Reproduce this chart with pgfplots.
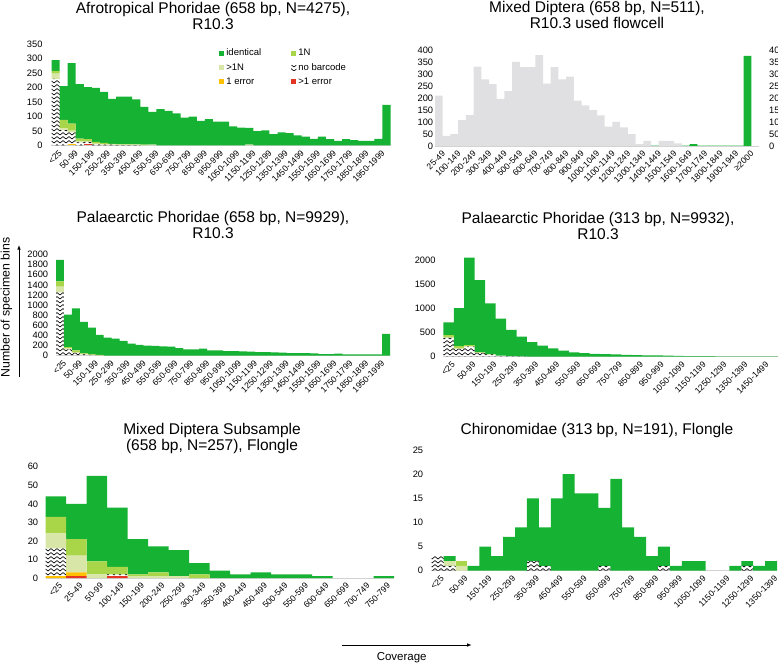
\documentclass[border=0pt]{standalone}
\usepackage{fontspec}
\setmainfont{Liberation Sans}
\usepackage{pgfplots}
\usepackage{pgfplotstable}
\pgfplotsset{compat=1.18}
\usetikzlibrary{patterns,patterns.meta,arrows.meta}

\definecolor{cid}{RGB}{22,178,52}
\definecolor{cn1}{RGB}{168,214,72}
\definecolor{cn2}{RGB}{216,230,168}
\definecolor{ce1}{RGB}{255,192,0}
\definecolor{ce2}{RGB}{228,52,36}
\definecolor{cgrey}{RGB}{224,224,226}

\tikzdeclarepattern{
  name=zigzag,
  type=uncolored,
  bounding box={(-0.5pt,-0.5pt) and (6.5pt,3.5pt)},
  tile size={(6pt,4pt)},
  code={\draw[line width=0.65pt] (0pt,0pt) -- (3pt,2.4pt) -- (6pt,0pt);}
}

\pgfplotsset{
  panel/.style={
    scale only axis, enlargelimits=false, clip=false,
    ybar stacked, bar width=1,
    ymin=0,
    axis line style={draw=none},
    major tick length=0pt,
    tick style={draw=none},
    xticklabel style={rotate=45, anchor=east, inner sep=0pt, yshift=-8pt, xshift=-1pt, font=\fontsize{8.6}{9}\selectfont},
    yticklabel style={anchor=east, inner sep=0pt, font=\fontsize{9.3}{10}\selectfont},
    /pgf/number format/assume math mode=true,
    /pgf/number format/1000 sep={},
    scaled y ticks=false,
  },
  sqlegend/.style={legend image code/.code={\path[##1] (0pt,-2.6pt) rectangle (5.2pt,2.6pt);}},
  pe2/.style={fill=ce2, draw=none, forget plot},
  pe1/.style={fill=ce1, draw=none, forget plot},
  pnb/.style={pattern=zigzag, pattern color=black, draw=none, forget plot},
  pn2/.style={fill=cn2, draw=none, forget plot},
  pn1/.style={fill=cn1, draw=none, forget plot},
  pid/.style={fill=cid, draw=none, forget plot},
}

\newcommand{\stackbars}[1]{%
  \addplot[pe2] table[x=x,y=e2]{#1};
  \addplot[pe1] table[x=x,y=e1]{#1};
  \addplot[pnb] table[x=x,y=nb]{#1};
  \addplot[pn2] table[x=x,y=n2]{#1};
  \addplot[pn1] table[x=x,y=n1]{#1};
  \addplot[pid] table[x=x,y=id]{#1};
}

% Afrotropical Phoridae 658 bp
\pgfplotstableread{
x e2 e1 nb n2 n1 id
0 0 0 230 18 10 37
1 0 0 53 6 29 117
2 0 5 40 6 24 210
3 0 0 10 5 8 189
4 4 0 8 3 6 181
5 0 0 3 3 6 187
6 0 0 2 2 4 177
7 0 0 2 1 2 156
8 0 0 1 1 2 165
9 0 0 1 1 2 165
10 0 0 1 1 1 156
11 0 0 0 1 1 131
12 0 0 0 2 0 114
13 0 0 0 0 0 125
14 0 0 0 0 0 119
15 0 0 0 0 0 111
16 0 0 0 0 0 96
17 0 0 0 0 0 99
18 0 0 0 0 0 85
19 0 0 0 0 0 91
20 0 0 0 0 0 82
21 0 0 0 0 0 82
22 0 0 0 0 0 66
23 0 0 0 0 0 61
24 0 0 0 2 0 58
25 0 0 0 0 0 49
26 0 0 0 0 0 52
27 0 0 0 0 0 39
28 0 0 0 0 0 45
29 0 0 0 0 0 42
30 0 0 0 0 0 34
31 0 0 0 0 0 30
32 0 0 0 0 0 22
33 0 0 0 0 0 30
34 0 0 0 0 0 21
35 0 0 0 0 0 15
36 0 0 0 0 0 21
37 0 0 0 0 0 18
38 0 0 0 0 0 15
39 0 0 0 0 0 15
40 0 0 0 0 0 22
41 0 0 0 0 0 140
}\tafro

% Mixed Diptera used flowcell
\pgfplotstableread{
x grey green
0 210 0
1 42 0
2 49 0
3 108 0
4 129 0
5 331 0
6 278 0
7 258 0
8 196 0
9 229 0
10 350 0
11 329 0
12 329 0
13 379 0
14 260 0
15 329 0
16 278 0
17 289 0
18 189 0
19 169 0
20 149 0
21 128 0
22 81 0
23 101 0
24 78 0
25 49 0
26 8 0
27 21 0
28 0 2
29 21 0
30 21 0
31 11 0
32 0 2
33 0 8
34 0 2
35 0 2
36 0 2
37 0 2
38 0 2
39 0 2
40 0 376
}\tmixed

% Palaearctic Phoridae 658 bp
\pgfplotstableread{
x e2 e1 nb n2 n1 id
0 0 0 1250 115 105 425
1 0 0 120 20 25 645
2 0 0 50 15 35 835
3 0 0 20 5 15 625
4 0 0 10 0 10 530
5 0 0 5 0 5 400
6 0 0 0 0 0 355
7 0 0 0 0 0 335
8 0 0 0 0 0 290
9 0 0 0 0 0 235
10 0 0 0 0 0 210
11 0 0 0 0 0 195
12 0 0 0 0 0 190
13 0 0 0 0 0 180
14 0 0 0 0 0 175
15 0 0 0 0 0 145
16 0 0 0 0 0 120
17 0 0 0 0 0 120
18 0 0 0 0 0 135
19 0 0 0 0 0 100
20 0 0 0 0 0 100
21 0 0 0 0 0 88
22 0 0 0 0 0 85
23 0 0 0 0 0 80
24 0 0 0 0 0 78
25 0 0 0 0 0 68
26 0 0 0 0 0 65
27 0 0 0 0 0 60
28 0 0 0 0 0 58
29 0 0 0 0 0 48
30 0 0 0 0 0 46
31 0 0 0 0 0 45
32 0 0 0 0 0 40
33 0 0 0 0 0 28
34 0 0 0 0 0 26
35 0 0 0 0 0 35
36 0 0 0 0 0 22
37 0 0 0 0 0 20
38 0 0 0 0 0 20
39 0 0 0 0 0 20
40 0 0 0 0 0 22
41 0 0 0 0 0 430
}\tpalA

% Palaearctic Phoridae 313 bp
\pgfplotstableread{
x e2 e1 nb n2 n1 id
0 0 0 390 20 40 260
1 0 0 165 20 35 790
2 0 0 210 10 20 1815
3 0 0 80 5 10 1495
4 0 0 50 0 5 1050
5 0 0 20 0 0 770
6 0 0 10 0 0 545
7 0 0 5 0 0 410
8 0 0 0 0 0 305
9 0 0 0 0 0 230
10 0 0 0 0 0 175
11 0 0 0 0 0 125
12 0 0 0 0 0 90
13 0 0 0 0 0 75
14 0 0 0 0 0 60
15 0 0 0 0 0 55
16 0 0 0 0 0 50
17 0 0 0 0 0 40
18 0 0 0 0 0 35
19 0 0 0 0 0 30
20 0 0 0 0 0 25
21 0 0 0 0 0 20
22 0 0 0 0 0 15
23 0 0 0 0 0 12
24 0 0 0 0 0 10
25 0 0 0 0 0 10
26 0 0 0 0 0 8
27 0 0 0 0 0 8
28 0 0 0 0 0 6
29 0 0 0 0 0 5
30 0 0 0 0 0 5
31 0 0 0 0 0 5
}\tpalB

% Mixed Diptera subsample Flongle
\pgfplotstableread{
x e2 e1 nb n2 n1 id
0 0 1 15 8 9 11
1 1 2 0 9 9 19
2 0 0 0 2 7 46
3 1 0 1 0 4 32
4 0 0 0 1 1 19
5 0 0 0 1 2 14
6 0 0 0 1 0 14
7 0 0 0 0 2 6
8 0 0 0 0 0 4
9 0 0 0 0 0 2
10 0 0 0 0 0 3
11 0 0 0 0 0 2
12 0 0 0 0 0 2
13 0 0 0 0 0 1
14 0 0 0 0 0 0
15 0 0 0 0 0 0
16 0 0 0 0 0 1
}\tflong

% Chironomidae Flongle
\pgfplotstableread{
x e2 e1 nb n2 n1 id
0 0 0 3 0 0 0
1 0 0 1 1 0 1
2 0 0 0 1 1 0
3 0 0 0 0 0 1
4 0 0 0 0 0 5
5 0 0 0 0 0 3
6 0 0 0 0 0 7
7 0 0 0 0 0 9
8 0 0 2 0 0 13
9 0 0 1 0 0 8
10 0 0 0 0 0 15
11 0 0 0 0 0 20
12 0 0 0 0 0 16
13 0 0 0 0 0 16
14 0 0 1 0 0 12
15 0 0 0 0 0 19
16 0 0 0 0 0 9
17 0 0 0 0 0 7
18 0 0 0 0 0 3
19 0 0 1 0 0 4
20 0 0 0 0 0 1
21 0 0 0 0 0 2
22 0 0 0 0 0 2
23 0 0 0 0 0 0
24 0 0 0 0 0 0
25 0 0 0 0 0 1
26 0 0 1 0 0 1
27 0 0 0 0 0 1
28 0 0 0 0 0 2
}\tchiro

\begin{document}
\begin{tikzpicture}
\tikzset{ttl/.style={align=center, font=\fontsize{15.5}{16.5}\selectfont}}

% ---------- Panel 1
\node[ttl] at (213pt,-16.2pt) {Afrotropical Phoridae (658 bp, N=4275),\\R10.3};
\begin{axis}[panel, at={(51.5pt,-145.3pt)}, anchor=south west,
  width=339pt, height=101pt, xmin=-0.5, xmax=41.5, ymax=350,
  ytick={0,50,...,350}, yticklabel style={xshift=-8.8pt},
  xtick={0,2,...,40},
  xticklabels={<25,50-99,150-199,250-299,350-399,450-499,550-599,650-699,750-799,850-899,950-999,1050-1099,1150-1199,1250-1299,1350-1399,1450-1499,1550-1599,1650-1699,1750-1799,1850-1899,1950-1999},
  legend columns=2,
  legend cell align=left,
  legend style={draw=none, fill=none, at={(0.494,0.975)}, anchor=north west,
    font=\fontsize{9.5}{10.5}\selectfont, inner sep=0pt, row sep=2pt,
    /tikz/every even column/.append style={column sep=28pt}},
]
\stackbars{\tafro}
\draw[gray!35, line width=0.7pt] (axis cs:-0.5,0) -- (axis cs:41.5,0);
\addlegendimage{sqlegend, fill=cid, draw=none}\addlegendentry{identical}
\addlegendimage{sqlegend, fill=cn1, draw=none}\addlegendentry{1N}
\addlegendimage{sqlegend, fill=cn2, draw=none}\addlegendentry{>1N}
\addlegendimage{sqlegend, pattern=zigzag, pattern color=black, draw=none}\addlegendentry{no barcode}
\addlegendimage{sqlegend, fill=ce1, draw=none}\addlegendentry{1 error}
\addlegendimage{sqlegend, fill=ce2, draw=none}\addlegendentry{>1 error}
\end{axis}

% ---------- Panel 2
\node[ttl] at (597pt,-15pt) {Mixed Diptera (658 bp, N=511),\\R10.3 used flowcell};
\begin{axis}[panel, at={(435pt,-146pt)}, anchor=south west,
  width=324pt, height=96pt, xmin=-0.5, xmax=41.5, ymax=400,
  ytick={0,50,...,400}, yticklabel style={xshift=-1.7pt},
  xtick={0,2,...,40},
  xticklabels={25-49,100-149,200-249,300-349,400-449,500-549,600-649,700-749,800-849,900-949,1000-1049,1100-1149,1200-1249,1300-1349,1400-1449,1500-1549,1600-1649,1700-1749,1800-1849,1900-1949,≥2000},
]
\addplot[fill=cgrey, draw=none] table[x=x,y=grey]{\tmixed};
\draw[gray!35, line width=0.7pt] (axis cs:-0.5,0) -- (axis cs:41.5,0);
\end{axis}
\begin{axis}[panel, at={(435pt,-146pt)}, anchor=south west,
  width=324pt, height=96pt, xmin=-0.5, xmax=41.5, ymax=400,
  axis x line=none, axis y line*=right, yticklabel pos=right,
  y axis line style={draw=none},
  ytick={0,50,...,400}, yticklabel style={anchor=west, xshift=10pt},
]
\addplot[fill=cid, draw=none] table[x=x,y=green]{\tmixed};
\end{axis}

% ---------- Panel 3
\node[ttl] at (213pt,-225pt) {Palaearctic Phoridae (658 bp, N=9929),\\R10.3};
\begin{axis}[panel, at={(56pt,-355.5pt)}, anchor=south west,
  width=334pt, height=101pt, xmin=-0.5, xmax=41.5, ymax=2000,
  ytick={0,200,...,2000}, yticklabel style={xshift=-7.7pt},
  xtick={0,2,...,40},
  xticklabels={<25,50-99,150-199,250-299,350-399,450-499,550-599,650-699,750-799,850-899,950-999,1050-1099,1150-1199,1250-1299,1350-1399,1450-1499,1550-1599,1650-1699,1750-1799,1850-1899,1950-1999},
]
\stackbars{\tpalA}
\draw[gray!35, line width=0.7pt] (axis cs:-0.5,0) -- (axis cs:41.5,0);
\end{axis}

% ---------- Panel 4
\node[ttl] at (598pt,-225.8pt) {Palaearctic Phoridae (313 bp, N=9932),\\R10.3};
\begin{axis}[panel, at={(443.3pt,-356.7pt)}, anchor=south west,
  width=334.7pt, height=101.2pt, xmin=-0.5, xmax=31.5, ymax=2100,
  ytick={0,500,...,2000}, yticklabel style={xshift=-7.6pt},
  xtick={0,2,...,30},
  xticklabels={<25,50-99,150-199,250-299,350-399,450-499,550-599,650-699,750-799,850-899,950-999,1050-1099,1150-1199,1250-1299,1350-1399,1450-1499},
]
\stackbars{\tpalB}
\draw[gray!35, line width=0.7pt] (axis cs:-0.5,0) -- (axis cs:31.5,0);
\end{axis}

% ---------- Panel 5
\node[ttl] at (212pt,-438.3pt) {Mixed Diptera Subsample\\(658 bp, N=257), Flongle};
\begin{axis}[panel, at={(45.7pt,-578pt)}, anchor=south west,
  width=348.5pt, height=111.3pt, xmin=-0.5, xmax=16.5, ymax=60,
  ytick={0,10,...,60}, yticklabel style={xshift=-7.4pt},
  xtick={0,1,...,16},
  xticklabels={<25,25-49,50-99,100-149,150-199,200-249,250-299,300-349,350-399,400-449,450-499,500-549,550-599,600-649,650-699,700-749,750-799},
]
\stackbars{\tflong}
\draw[gray!35, line width=0.7pt] (axis cs:-0.5,0) -- (axis cs:16.5,0);
\end{axis}

% ---------- Panel 6
\node[ttl] at (597pt,-430pt) {Chironomidae (313 bp, N=191), Flongle};
\begin{axis}[panel, at={(431.7pt,-570.7pt)}, anchor=south west,
  width=345.3pt, height=120.7pt, xmin=-0.5, xmax=28.5, ymax=25,
  ytick={0,5,...,25}, yticklabel style={xshift=-8.4pt},
  xtick={0,2,...,28},
  xticklabels={<25,50-99,150-199,250-299,350-399,450-499,550-599,650-699,750-799,850-899,950-999,1050-1099,1150-1199,1250-1299,1350-1399},
]
\stackbars{\tchiro}
\draw[gray!35, line width=0.7pt] (axis cs:-0.5,0) -- (axis cs:28.5,0);
\end{axis}

% ---------- shared axis titles
\draw[-{Latex[length=4.5pt,width=3.5pt]}, line width=0.8pt] (19pt,-377pt) -- (19pt,-245pt);
\node[rotate=90, font=\fontsize{12.3}{14}\selectfont] at (6.5pt,-307.5pt) {Number of specimen bins};
\draw[-{Latex[length=4.5pt,width=3.5pt]}, line width=0.8pt] (341.7pt,-645pt) -- (471.7pt,-645pt);
\node[font=\fontsize{11.5}{13}\selectfont] at (401.7pt,-657.5pt) {Coverage};

\pgfresetboundingbox
\path[use as bounding box] (0pt,0pt) rectangle (778pt,-663pt);
\end{tikzpicture}
\end{document}
